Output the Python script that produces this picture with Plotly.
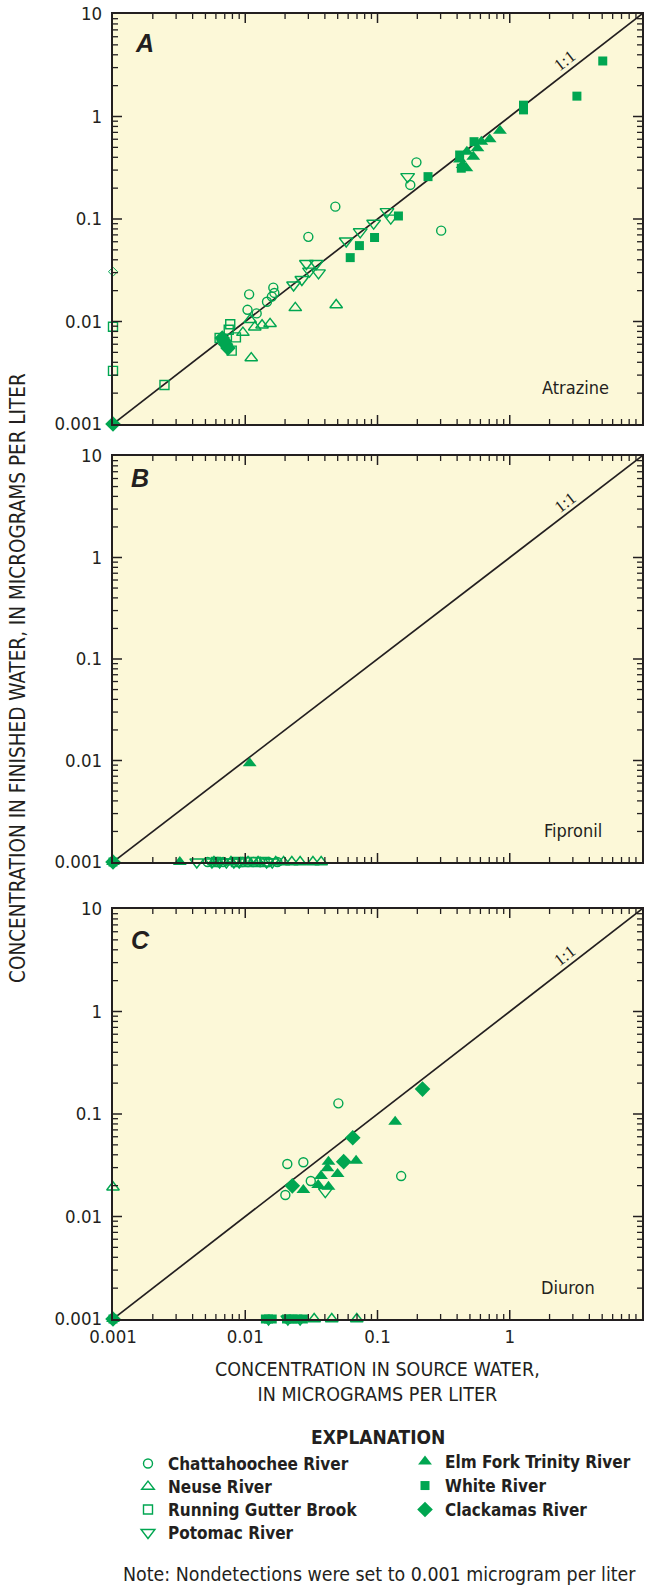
import math
import plotly.graph_objects as go

# ---------------- DATA ----------------
chatt_A_x = [0.197, 0.177, 0.048, 0.030, 0.303, 0.0107, 0.0104, 0.0122, 0.0146, 0.0159, 0.0166, 0.0163]
chatt_A_y = [0.357, 0.215, 0.132, 0.067, 0.077, 0.0184, 0.0130, 0.0120, 0.0156, 0.0175, 0.0190, 0.0214]
neuse_A_x = [0.0239, 0.0487, 0.0111, 0.0109, 0.0118, 0.0134, 0.0154, 0.0096]
neuse_A_y = [0.0136, 0.0145, 0.0044, 0.0104, 0.0088, 0.0092, 0.0095, 0.0078]
running_A_x = [0.001, 0.001, 0.00245, 0.0077, 0.0064, 0.0079, 0.0085, 0.0075]
running_A_y = [0.0089, 0.0033, 0.0024, 0.0094, 0.0069, 0.0052, 0.0070, 0.0083]
potomac_A_x = [0.118, 0.126, 0.0935, 0.074, 0.058, 0.029, 0.0345, 0.0306, 0.0358, 0.0268, 0.0232, 0.169]
potomac_A_y = [0.118, 0.102, 0.091, 0.075, 0.061, 0.0368, 0.0368, 0.031, 0.0298, 0.0257, 0.0227, 0.259]
elm_A_x = [0.843, 0.705, 0.61, 0.57, 0.474, 0.53, 0.44, 0.47, 0.42]
elm_A_y = [0.727, 0.599, 0.568, 0.49, 0.454, 0.405, 0.336, 0.313, 0.38]
white_A_x = [5.05, 3.22, 1.27, 1.27, 0.537, 0.418, 0.43, 0.241, 0.144, 0.095, 0.073, 0.0622]
white_A_y = [3.48, 1.58, 1.29, 1.16, 0.568, 0.421, 0.313, 0.259, 0.107, 0.066, 0.055, 0.042]
clack_A_x = [0.001, 0.0067, 0.0071, 0.0074, 0.0069]
clack_A_y = [0.001, 0.0069, 0.0060, 0.0055, 0.0065]
other_A_x = [0.001]
other_A_y = [0.0306]

chatt_B_x = [0.0052, 0.0068, 0.0095, 0.0115, 0.0130, 0.0150, 0.0175, 0.0062, 0.0105]
chatt_B_y = [0.001, 0.001, 0.001, 0.001, 0.001, 0.001, 0.001, 0.001, 0.001]
neuse_B_x = [0.0058, 0.0078, 0.0105, 0.0125, 0.0170, 0.0195, 0.0225, 0.026, 0.0325, 0.0375]
neuse_B_y = [0.001, 0.001, 0.001, 0.001, 0.001, 0.001, 0.001, 0.001, 0.001, 0.001]
running_B_x = [0.0060, 0.0085, 0.0120, 0.0140, 0.0100]
running_B_y = [0.001, 0.001, 0.001, 0.001, 0.001]
potomac_B_x = [0.0043, 0.0056, 0.0064, 0.0072, 0.0082, 0.0145, 0.0160, 0.0090]
potomac_B_y = [0.001, 0.001, 0.001, 0.001, 0.001, 0.001, 0.001, 0.001]
elm_B_x = [0.0108, 0.0032, 0.001]
elm_B_y = [0.0094, 0.001, 0.001]
white_B_x = [0.001]
white_B_y = [0.001]
clack_B_x = [0.001]
clack_B_y = [0.001]

chatt_C_x = [0.0506, 0.0208, 0.0275, 0.0313, 0.0201, 0.151]
chatt_C_y = [0.127, 0.0325, 0.0338, 0.0222, 0.0162, 0.0248]
neuse_C_x = [0.001, 0.0332, 0.0451, 0.0697]
neuse_C_y = [0.0193, 0.001, 0.001, 0.001]
potomac_C_x = [0.0403, 0.015, 0.021, 0.026]
potomac_C_y = [0.0175, 0.001, 0.001, 0.001]
elm_C_x = [0.136, 0.0689, 0.0426, 0.0418, 0.0374, 0.0499, 0.0356, 0.0426, 0.0275, 0.001]
elm_C_y = [0.084, 0.035, 0.0343, 0.0295, 0.0248, 0.026, 0.0203, 0.0195, 0.0181, 0.001]
white_C_x = [0.0142, 0.0150, 0.0160, 0.0205, 0.0215, 0.0230, 0.0250, 0.0275, 0.001]
white_C_y = [0.001, 0.001, 0.001, 0.001, 0.001, 0.001, 0.001, 0.001, 0.001]
clack_C_x = [0.219, 0.065, 0.0555, 0.0227, 0.001]
clack_C_y = [0.175, 0.0587, 0.0343, 0.0199, 0.001]

one_to_one = [0.001, 10]
major_ticks = [0.001, 0.01, 0.1, 1, 10]
major_text = ["0.001", "0.01", "0.1", "1", "10"]
minor_ticks = [m * 10.0 ** e for e in range(-3, 1) for m in range(2, 10)]
panel_letters = ["A", "B", "C"]
compounds = ["Atrazine", "Fipronil", "Diuron"]

# ---------------- STYLE ----------------
W, H = 645, 1593
ML, MR, MT, MB = 113, 3, 14, 274
PW, PH = W - ML - MR, H - MT - MB
GREEN = "#00a651"
INK = "#231f20"
BG = "#fcf8d8"
NARROW = "Liberation Sans Narrow, Arial Narrow, DejaVu Sans Condensed, sans-serif"
SERIF = "Liberation Serif, Times New Roman, serif"
MAJOR_LEN, MINOR_LEN = 9, 5

def pxx(px):
    return (px - ML) / PW

def pxy(py):
    return (H - MB - py) / PH

panels_px = [(14, 424), (456, 862), (909, 1319)]
domains = [[pxy(b), pxy(t)] for (t, b) in panels_px]

series = {
    "chatt": dict(name="Chattahoochee River", symbol="circle-open", size=9, legend="legend", pos=(128, 1463)),
    "neuse": dict(name="Neuse River", symbol="triangle-up-open", size=11, legend="legend2", pos=(128, 1486)),
    "running": dict(name="Running Gutter Brook", symbol="square-open", size=9, legend="legend3", pos=(128, 1509)),
    "potomac": dict(name="Potomac River", symbol="triangle-down-open", size=12, legend="legend4", pos=(128, 1532)),
    "elm": dict(name="Elm Fork Trinity River", symbol="triangle-up", size=12, legend="legend5", pos=(405, 1461)),
    "white": dict(name="White River", symbol="square", size=9, legend="legend6", pos=(405, 1485)),
    "clack": dict(name="Clackamas River", symbol="diamond", size=12, legend="legend7", pos=(405, 1509)),
}
order = ["chatt", "neuse", "running", "potomac", "elm", "white", "clack"]

data = {
    1: {"chatt": (chatt_A_x, chatt_A_y), "neuse": (neuse_A_x, neuse_A_y), "running": (running_A_x, running_A_y),
        "potomac": (potomac_A_x, potomac_A_y), "elm": (elm_A_x, elm_A_y), "white": (white_A_x, white_A_y),
        "clack": (clack_A_x, clack_A_y)},
    2: {"chatt": (chatt_B_x, chatt_B_y), "neuse": (neuse_B_x, neuse_B_y), "running": (running_B_x, running_B_y),
        "potomac": (potomac_B_x, potomac_B_y), "elm": (elm_B_x, elm_B_y), "white": (white_B_x, white_B_y),
        "clack": (clack_B_x, clack_B_y)},
    3: {"chatt": (chatt_C_x, chatt_C_y), "neuse": (neuse_C_x, neuse_C_y), "running": ([], []),
        "potomac": (potomac_C_x, potomac_C_y), "elm": (elm_C_x, elm_C_y), "white": (white_C_x, white_C_y),
        "clack": (clack_C_x, clack_C_y)},
}

def xn(n):
    return "x" if n == 1 else f"x{n}"

def yn(n):
    return "y" if n == 1 else f"y{n}"

fig = go.Figure()

for p in (1, 2, 3):
    xa, ya = xn(p), yn(p)
    fig.add_trace(go.Scatter(x=one_to_one, y=one_to_one, mode="lines", xaxis=xa, yaxis=ya,
                             line=dict(color=INK, width=1.7), showlegend=False, hoverinfo="skip"))
    if p == 1:
        fig.add_trace(go.Scatter(x=other_A_x, y=other_A_y, mode="markers", xaxis=xa, yaxis=ya,
                                 marker=dict(symbol="diamond-open", size=7, color=GREEN,
                                             line=dict(color=GREEN, width=1)),
                                 showlegend=False, cliponaxis=False))
    for key in order:
        s = series[key]
        xs, ys = data[p][key]
        open_ = s["symbol"].endswith("open")
        fig.add_trace(go.Scatter(
            x=xs, y=ys, mode="markers", xaxis=xa, yaxis=ya, name=s["name"],
            legendgroup=key, legend=s["legend"], showlegend=(p == 1),
            marker=dict(symbol=s["symbol"], size=s["size"], color=GREEN,
                        line=dict(color=GREEN, width=1.4 if open_ else 0)),
            cliponaxis=False))

y_text = [t + "\u00a0" for t in major_text]

axis_common = dict(type="log", range=[-3, 1], showgrid=False, zeroline=False, showline=True,
                   linecolor=INK, linewidth=1.8, mirror=True, ticks="", tickmode="array",
                   tickvals=major_ticks, tickfont=dict(family=NARROW, size=18.5, color=INK))

layout = dict(
    width=W, height=H, margin=dict(l=ML, r=MR, t=MT, b=MB, autoexpand=False),
    paper_bgcolor="white", plot_bgcolor=BG, showlegend=True,
)
for p in (1, 2, 3):
    layout["xaxis" if p == 1 else f"xaxis{p}"] = dict(axis_common, domain=[0, 1], anchor=yn(p),
                                                      ticktext=major_text, showticklabels=(p == 3))
    layout["yaxis" if p == 1 else f"yaxis{p}"] = dict(axis_common, domain=domains[p - 1], anchor=xn(p),
                                                      ticktext=y_text)

legend_font = dict(family=NARROW, size=17, color=INK, weight="bold")
for key in order:
    s = series[key]
    lx, ly = s["pos"]
    layout[s["legend"]] = dict(x=pxx(lx), y=pxy(ly - 17), xanchor="left", yanchor="top",
                               font=legend_font, bgcolor="rgba(0,0,0,0)", itemwidth=30,
                               borderwidth=0)

fig.update_layout(**layout)

# inward tick marks on all four sides, placed at the tick values through the axes
shapes = []
tick_sets = [(major_ticks[1:-1], MAJOR_LEN, 1.5), (minor_ticks, MINOR_LEN, 1.3)]
for p in (1, 2, 3):
    xr, yr = xn(p), yn(p)
    for vals, L, w in tick_sets:
        ln = dict(color=INK, width=w)
        for v in vals:
            for anc, sign in ((0, 1), (1, -1)):
                shapes.append(dict(type="line", xref=xr, yref=f"{yr} domain", x0=v, x1=v,
                                   ysizemode="pixel", yanchor=anc, y0=0, y1=sign * L,
                                   line=ln, layer="above"))
                shapes.append(dict(type="line", yref=yr, xref=f"{xr} domain", y0=v, y1=v,
                                   xsizemode="pixel", xanchor=anc, x0=0, x1=sign * L,
                                   line=ln, layer="above"))

ann = []
letter_px = [(144, 43), (140, 478), (140, 940)]
label_px = [(575, 387), (573, 830), (568, 1287)]
angle = -math.degrees(math.atan((panels_px[0][1] - panels_px[0][0]) / PW))
for i, p in enumerate((1, 2, 3)):
    xr, yr = xn(p), yn(p)
    lx, ly = letter_px[i]
    ann.append(dict(text=f"<b><i>{panel_letters[i]}</i></b>", xref="paper", yref="paper",
                    x=pxx(lx), y=pxy(ly), showarrow=False, xanchor="center", yanchor="middle",
                    font=dict(family="Liberation Sans, Arial, sans-serif", size=25, color=INK)))
    cx, cy = label_px[i]
    ann.append(dict(text=compounds[i], xref="paper", yref="paper", x=pxx(cx), y=pxy(cy),
                    showarrow=False, xanchor="center", yanchor="middle",
                    font=dict(family=NARROW, size=18, color=INK)))
    ann.append(dict(text="1:1", xref=xr, yref=yr, x=math.log10(2.62), y=math.log10(2.62),
                    showarrow=False, textangle=angle, yshift=13, xanchor="center", yanchor="middle",
                    font=dict(family=SERIF, size=17, color=INK)))

ann.append(dict(text="CONCENTRATION IN FINISHED WATER, IN MICROGRAMS PER LITER",
                xref="paper", yref="paper", x=pxx(18), y=pxy(678), textangle=-90,
                showarrow=False, xanchor="center", yanchor="middle",
                font=dict(family=NARROW, size=20.5, color=INK)))
ann.append(dict(text="CONCENTRATION IN SOURCE WATER,<br>IN MICROGRAMS PER LITER",
                xref="paper", yref="paper", x=pxx(377), y=pxy(1382), showarrow=False,
                xanchor="center", yanchor="middle",
                font=dict(family=NARROW, size=19.5, color=INK)))
ann.append(dict(text="<b>EXPLANATION</b>", xref="paper", yref="paper", x=pxx(378), y=pxy(1437),
                showarrow=False, xanchor="center", yanchor="middle",
                font=dict(family=NARROW, size=19, color=INK)))
ann.append(dict(text="Note: Nondetections were set to 0.001 microgram per liter",
                xref="paper", yref="paper", x=pxx(379), y=pxy(1574), showarrow=False,
                xanchor="center", yanchor="middle",
                font=dict(family=NARROW, size=19.4, color=INK)))

fig.update_layout(annotations=ann, shapes=shapes)

fig.write_html("out.html")
